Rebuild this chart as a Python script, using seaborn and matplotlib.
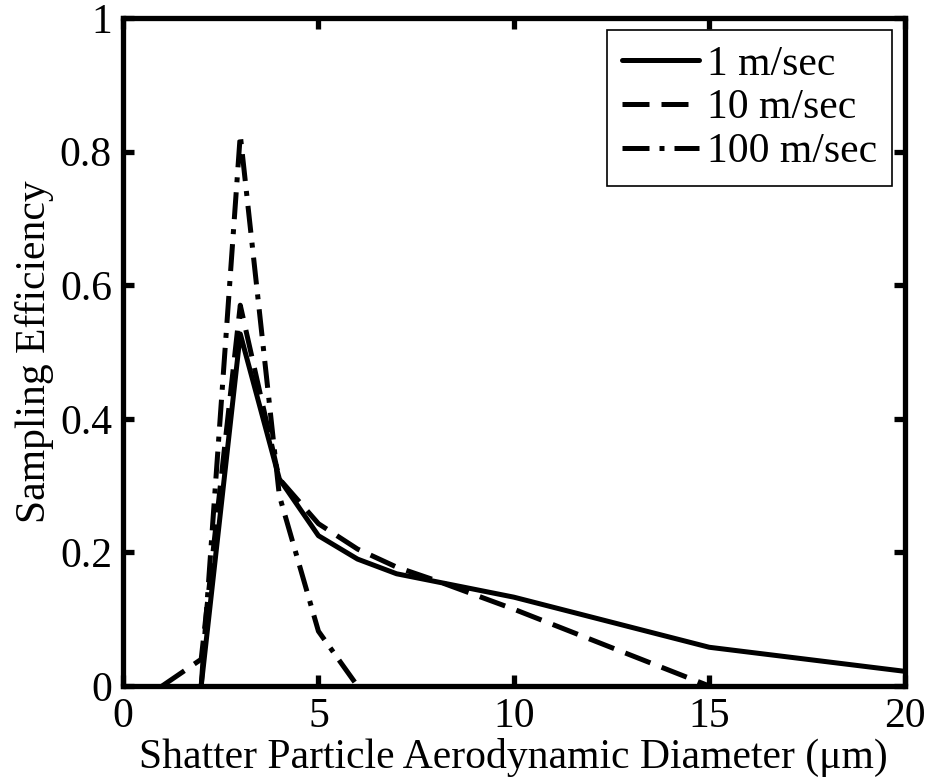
import matplotlib
matplotlib.use("Agg")
import matplotlib.pyplot as plt
import numpy as np
import pandas as pd
import seaborn as sns

# 1 m/sec
x_1 = [2, 3, 4, 5, 6, 7, 10, 15, 20]
y_1 = [0.0, 0.527, 0.31, 0.225, 0.19, 0.168, 0.133, 0.058, 0.022]

# 10 m/sec
x_10 = [1, 2, 3, 4, 5, 6, 7, 8, 10, 15]
y_10 = [0.0, 0.04, 0.57, 0.31, 0.243, 0.205, 0.178, 0.158, 0.115, 0.0]

# 100 m/sec
x_100 = [2, 3, 4, 5, 6]
y_100 = [0.0, 0.825, 0.285, 0.082, 0.0]

labels = ['1 m/sec', '10 m/sec', '100 m/sec']
xticks = [0, 5, 10, 15, 20]
yticks = [0, 0.2, 0.4, 0.6, 0.8, 1]

sns.set_theme(style='ticks')
plt.rcParams['font.family'] = ['Liberation Serif', 'DejaVu Serif']
plt.rcParams['text.color'] = 'black'
plt.rcParams['axes.labelcolor'] = 'black'

fig = plt.figure(figsize=(9.25, 7.8), dpi=100)
ax = fig.add_axes([0.133, 0.1205, 0.845, 0.8565])

lw = 3.6
sns.lineplot(x=x_1, y=y_1, ax=ax, color='black', lw=lw, label=labels[0])
sns.lineplot(x=x_10, y=y_10, ax=ax, color='black', lw=lw, label=labels[1])
sns.lineplot(x=x_100, y=y_100, ax=ax, color='black', lw=lw, label=labels[2])

lines = ax.get_lines()
lines[1].set_dashes((5.4, 2.4))
lines[2].set_dashes((5.4, 2.0, 1.0, 2.0))

ax.set_xlim(0, 20)
ax.set_ylim(0, 1)
ax.set_xticks(xticks)
ax.set_yticks(yticks)
ax.set_xticklabels([str(t) for t in xticks])
ax.set_yticklabels(['0', '0.2', '0.4', '0.6', '0.8', '1'])

for s in ax.spines.values():
    s.set_linewidth(3.8)
    s.set_color('black')
    s.set_visible(True)
ax.tick_params(direction='in', top=True, right=True, length=8, width=3.8,
               labelsize=30, colors='black', pad=8)

ax.set_xlabel('Shatter Particle Aerodynamic Diameter (\u03bcm)', fontsize=30, labelpad=2)
ax.set_ylabel('Sampling Efficiency', fontsize=30, labelpad=4)

leg = ax.legend(loc='upper right', fontsize=30, frameon=True, fancybox=False,
                edgecolor='black', framealpha=1, handlelength=1.85,
                handletextpad=0.2, labelspacing=0.13, borderaxespad=0.3,
                borderpad=0.35)
leg.get_frame().set_linewidth(1.2)
for h in leg.get_lines():
    h.set_linewidth(lw)

fig.savefig('out.png', dpi=100)
